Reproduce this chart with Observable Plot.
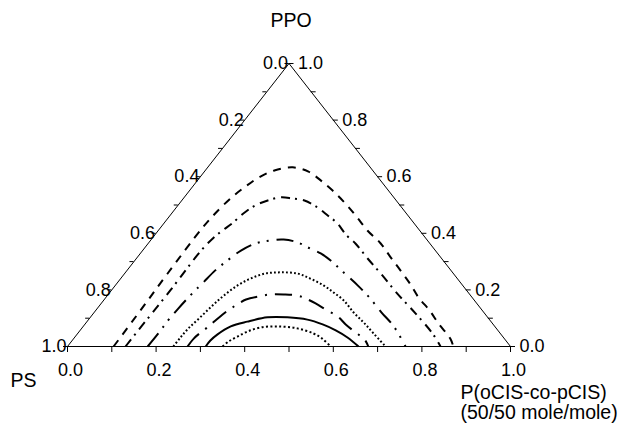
<!DOCTYPE html>
<html><head><meta charset="utf-8">
<script src="https://cdn.jsdelivr.net/npm/d3@7"></script>
<script src="https://cdn.jsdelivr.net/npm/@observablehq/plot@0.6"></script>
<style>
body{margin:0;background:#fff}
svg{font-family:"Liberation Sans",Arial,Helvetica,sans-serif}
</style>
</head><body><div id="chart"></div>
<script>
// Ternary axes: P(oCIS-co-pCIS) fraction (bottom), PPO fraction (right edge), PS fraction (left edge)
const tickValues = [0,0.1,0.2,0.3,0.4,0.5,0.6,0.7,0.8,0.9,1.0];
const labelValues = [0,0.2,0.4,0.6,0.8,1.0];
const labelTexts = ["0.0","0.2","0.4","0.6","0.8","1.0"];
const axisNames = {top: "PPO", left: "PS", right1: "P(oCIS-co-pCIS)", right2: "(50/50 mole/mole)"};

// Contour curves as [P(oCIS-co-pCIS), PPO] pairs, outermost first
const curveDashed = [[0.104,0],[0.101,0.127],[0.097,0.258],[0.095,0.421],[0.100,0.484],[0.108,0.530],[0.119,0.565],[0.133,0.597],[0.156,0.622],[0.192,0.633],[0.235,0.618],[0.278,0.587],[0.323,0.551],[0.375,0.505],[0.423,0.459],[0.472,0.410],[0.525,0.364],[0.572,0.315],[0.617,0.269],[0.665,0.219],[0.706,0.173],[0.754,0.127],[0.797,0.081],[0.850,0.028],[0.871,0]];
const curveDashDot = [[0.131,0],[0.131,0.050],[0.132,0.120],[0.133,0.198],[0.132,0.269],[0.132,0.339],[0.137,0.382],[0.145,0.410],[0.154,0.435],[0.162,0.470],[0.174,0.498],[0.194,0.516],[0.218,0.527],[0.246,0.523],[0.277,0.516],[0.319,0.491],[0.356,0.463],[0.392,0.435],[0.430,0.396],[0.468,0.364],[0.522,0.311],[0.578,0.258],[0.651,0.187],[0.727,0.117],[0.801,0.046],[0.842,0]];
const curveLongDashDotDot = [[0.181,0],[0.182,0.046],[0.181,0.092],[0.183,0.134],[0.189,0.198],[0.193,0.223],[0.199,0.269],[0.210,0.307],[0.222,0.339],[0.242,0.364],[0.271,0.375],[0.299,0.378],[0.335,0.368],[0.375,0.346],[0.407,0.329],[0.442,0.304],[0.492,0.262],[0.547,0.216],[0.595,0.173],[0.649,0.120],[0.701,0.071],[0.763,0]];
const curveDotted = [[0.239,0],[0.239,0.032],[0.241,0.064],[0.248,0.103],[0.255,0.145],[0.263,0.180],[0.276,0.216],[0.293,0.240],[0.318,0.258],[0.350,0.262],[0.390,0.258],[0.428,0.240],[0.470,0.216],[0.505,0.191],[0.542,0.163],[0.586,0.120],[0.626,0.085],[0.668,0.046],[0.718,0]];
const curveLongDashDot = [[0.271,0],[0.271,0.028],[0.276,0.050],[0.282,0.067],[0.288,0.092],[0.298,0.127],[0.307,0.145],[0.320,0.166],[0.343,0.177],[0.366,0.184],[0.396,0.184],[0.429,0.180],[0.452,0.170],[0.484,0.152],[0.517,0.131],[0.557,0.106],[0.589,0.078],[0.625,0.050],[0.658,0.025],[0.679,0]];
const curveSolid = [[0.312,0],[0.312,0.021],[0.317,0.042],[0.333,0.071],[0.362,0.088],[0.400,0.103],[0.445,0.103],[0.494,0.095],[0.537,0.078],[0.577,0.057],[0.616,0.032],[0.657,0]];
const curveInnerDotted = [[0.350,0],[0.355,0.018],[0.366,0.035],[0.380,0.053],[0.402,0.067],[0.439,0.071],[0.487,0.064],[0.532,0.046],[0.561,0.028],[0.594,0]];

const curveStyles = [
  {data: curveDashed, dash: "8,7"},
  {data: curveDashDot, dash: "9,5,2,6"},
  {data: curveLongDashDotDot, dash: "17,7,2,7,2,8"},
  {data: curveDotted, dash: "1.8,2.2"},
  {data: curveLongDashDot, dash: "17,8,2,8"},
  {data: curveSolid, dash: null},
  {data: curveInnerDotted, dash: "2,2.4"}
];

// projection of ternary (P, PPO) to plane: x = P + PPO/2, y = PPO
const tx = d => d[0] + d[1] / 2;
const ty = d => d[1];

const W = 632, H = 425;
const mL = 67, mR = 122, mT = 63, mB = 79;
const pxX = 1 / (W - mL - mR); // one pixel in x data units
const pxY = 1 / (H - mT - mB);

const triangle = [[0,0],[1,0],[0,1],[0,0]];

const marks = [];
marks.push(Plot.line(triangle, {x: tx, y: ty, stroke: "#000", strokeWidth: 1}));

// bottom ticks (P fraction)
marks.push(Plot.ruleX(tickValues, {x: d => d, y1: 0, y2: -6 * pxY, stroke: "#000", strokeWidth: 1}));
marks.push(Plot.text(labelValues, {x: d => d, y: 0, text: (d, i) => labelTexts[i], dy: 24, dx: 3, fontSize: 18, fill: "#000"}));

// left edge ticks (PS fraction: 0 at top, 1 at bottom-left)
const leftPt = ps => [0, 1 - ps];
marks.push(Plot.ruleY(tickValues, {y: d => ty(leftPt(d)), x1: d => tx(leftPt(d)), x2: d => tx(leftPt(d)) - 4 * pxX, stroke: "#000", strokeWidth: 1}));
marks.push(Plot.text(labelValues, {x: d => tx(leftPt(d)), y: d => ty(leftPt(d)), text: (d, i) => labelTexts[i], textAnchor: "end", dx: -1, fontSize: 18, fill: "#000"}));

// right edge ticks (PPO fraction: 0 at bottom-right, 1 at top)
const rightPt = q => [1 - q, q];
marks.push(Plot.ruleY(tickValues, {y: d => ty(rightPt(d)), x1: d => tx(rightPt(d)), x2: d => tx(rightPt(d)) + 5 * pxX, stroke: "#000", strokeWidth: 1}));
marks.push(Plot.text(labelValues, {x: d => tx(rightPt(d)), y: d => ty(rightPt(d)), text: (d, i) => labelTexts[i], textAnchor: "start", dx: 9, fontSize: 18, fill: "#000"}));

// contour curves
for (const c of curveStyles) {
  marks.push(Plot.line(c.data, {x: tx, y: ty, curve: "catmull-rom", stroke: "#000", strokeWidth: 2,
    strokeDasharray: c.dash || undefined, strokeLinecap: "butt"}));
}

// axis names anchored at the vertices
marks.push(Plot.text([[0,1]], {x: tx, y: ty, text: () => axisNames.top, dy: -43, dx: 2, fontSize: 19.5, fill: "#000"}));
marks.push(Plot.text([[0,0]], {x: tx, y: ty, text: () => axisNames.left, dy: 34, dx: -44, fontSize: 19.5, fill: "#000"}));
marks.push(Plot.text([[1,0]], {x: tx, y: ty, text: () => axisNames.right1, dy: 46, dx: -50, textAnchor: "start", fontSize: 19.5, fill: "#000"}));
marks.push(Plot.text([[1,0]], {x: tx, y: ty, text: () => axisNames.right2, dy: 66, dx: -50, textAnchor: "start", fontSize: 19.5, fill: "#000"}));

const chart = Plot.plot({
  width: W, height: H,
  marginLeft: mL, marginRight: mR, marginTop: mT, marginBottom: mB,
  x: {domain: [0, 1], axis: null},
  y: {domain: [0, 1], axis: null},
  style: {background: "#fff", overflow: "visible"},
  marks
});
document.getElementById("chart").appendChild(chart);
</script>
</body></html>
